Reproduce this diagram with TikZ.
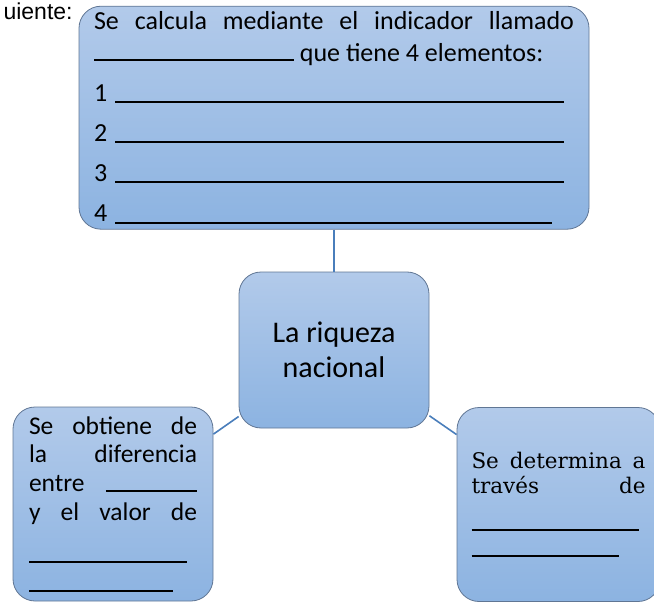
\documentclass[tikz,border=0pt]{standalone}
\usepackage{fontspec}
\setmainfont{Carlito}
\newfontfamily\cambriafont{DejaVu Serif}
\newfontfamily\arialfont{Liberation Sans}
\usetikzlibrary{positioning}
\definecolor{boxtop}{RGB}{178,202,234}
\definecolor{boxbot}{RGB}{140,179,225}
\definecolor{boxline}{RGB}{96,118,148}
\definecolor{linkblue}{RGB}{74,126,187}

\begin{document}
\begin{tikzpicture}[x=1pt,y=1pt,
    box/.style={rectangle,rounded corners=22pt,draw=boxline,line width=0.8pt,
      top color=boxtop,bottom color=boxbot,inner ysep=0pt,align=justify},
    link/.style={draw=linkblue,line width=1.6pt}]
  \path[use as bounding box,clip] (0,0) rectangle (654,-602);

  \node[anchor=base west,font=\arialfont\fontsize{23}{26}\selectfont] (hint) at (0,-20) {uiente:};

  \node[box,align=center,minimum width=190pt,minimum height=156pt,
    font=\fontsize{30}{35}\selectfont] (riq) at (334,-350) {La riqueza\\nacional};

  \node[box,text width=480pt,inner xsep=15pt,minimum height=223pt,
    font=\fontsize{26}{32}\selectfont] (indic) [above=42pt of riq] {%
    Se calcula mediante el indicador llamado\linebreak
    \rule{200pt}{1.8pt} que tiene 4 elementos:\par\vspace{8pt}
    1\hspace{8pt}\rule[-1.8pt]{449pt}{1.8pt}\par\vspace{8pt}
    2\hspace{8pt}\rule[-1.8pt]{449pt}{1.8pt}\par\vspace{8pt}
    3\hspace{8pt}\rule[-1.8pt]{449pt}{1.8pt}\par\vspace{8pt}
    4\hspace{8pt}\rule[-3pt]{437pt}{1.8pt}};

  \node[box,text width=168pt,inner xsep=16pt,minimum height=194pt,
    font=\fontsize{25.5}{28.7}\selectfont] (dif) at (113,-504) {%
    Se obtiene de\linebreak la diferencia\linebreak
    entre\hfill\rule{91pt}{1.8pt}\linebreak
    y\hfill el\hfill valor\hfill de\par\vspace{14pt}
    \rule{158pt}{1.8pt}\par
    \rule{144pt}{1.8pt}};

  \node[box,text width=174pt,inner xsep=14.5pt,minimum height=194pt,
    font=\cambriafont\fontsize{21.5}{25}\selectfont] (det) at (558.5,-504.5) {%
    Se determina a\linebreak través\hfill de\par\vspace{13pt}
    \rule{167pt}{1.8pt}\par\vspace{1pt}
    \rule{147pt}{1.8pt}};

  \draw[link] (indic) -- (riq);
  \draw[link] (riq) -- (dif);
  \draw[link] (riq) -- (det);
\end{tikzpicture}
\end{document}
